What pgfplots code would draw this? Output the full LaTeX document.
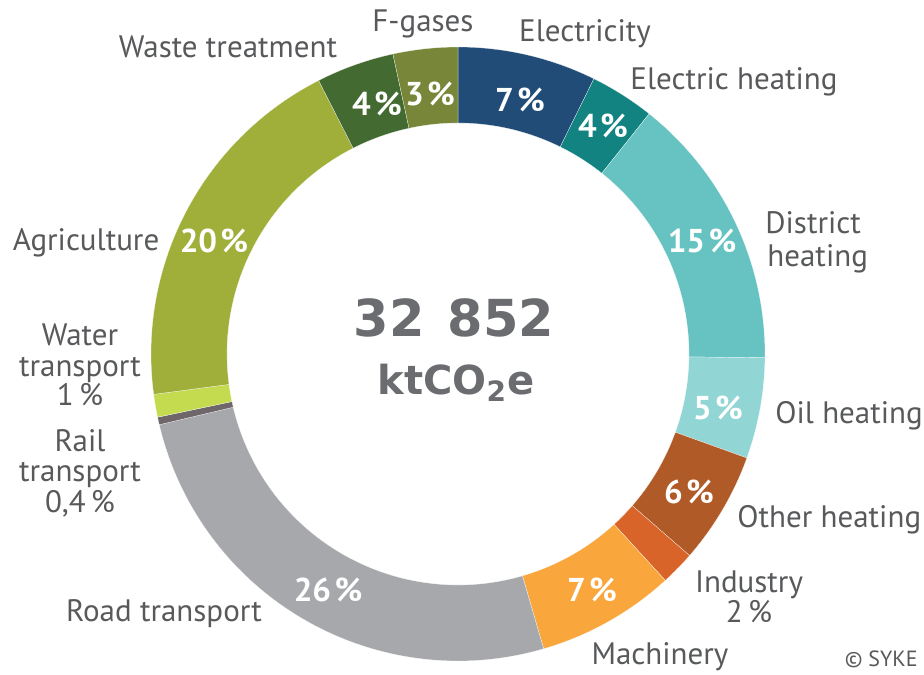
\documentclass[border=0pt]{standalone}
\usepackage{fontspec}
\setmainfont{PT Sans}
\newfontfamily\bigfont{DejaVu Sans}
\usepackage{pgfplots}
\usepackage{pgfplotstable}
\pgfplotsset{compat=1.18}

\definecolor{c0}{HTML}{204C77}
\definecolor{c1}{HTML}{128380}
\definecolor{c2}{HTML}{66C3C1}
\definecolor{c3}{HTML}{91D5D4}
\definecolor{c4}{HTML}{B05A27}
\definecolor{c5}{HTML}{D8642A}
\definecolor{c6}{HTML}{F9A63D}
\definecolor{c7}{HTML}{A7A8AB}
\definecolor{c8}{HTML}{6F6669}
\definecolor{c9}{HTML}{C4DA4F}
\definecolor{c10}{HTML}{A0AF39}
\definecolor{c11}{HTML}{436A31}
\definecolor{c12}{HTML}{778639}
\definecolor{labgrey}{HTML}{58595B}
\definecolor{numgrey}{HTML}{6B6C6F}

\tikzset{
  lab/.style={font=\fontsize{15.5}{18}\selectfont, text=labgrey, inner sep=0pt},
  pct/.style={font=\bfseries\fontsize{16.5}{18}\selectfont, text=white, inner sep=0pt},
}

% share of total emissions, percent (clockwise from 12 o'clock)
\pgfplotstableread[col sep=comma]{
sector,share
Electricity,7.3
Electric heating,3.4
District heating,14.5
Oil heating,5.3
Other heating,5.9
Industry,1.8
Machinery,7.3
Road transport,25.8
Rail transport,0.4
Water transport,1.2
Agriculture,19.6
Waste treatment,4.1
F-gases,3.4
}\emissions

\begin{document}
\begin{tikzpicture}
\begin{axis}[
  x=0.5pt, y=0.5pt, disabledatascaling,
  hide axis, clip=false,
  xmin=-458, xmax=466, ymin=-320, ymax=354,
]
\def\angA{90}
\pgfplotsforeachungrouped \i in {0,...,12}{%
  \pgfplotstablegetelem{\i}{share}\of{\emissions}%
  \pgfmathsetmacro{\angB}{\angA-3.6*\pgfplotsretval}%
  \edef\seg{\noexpand\fill[c\i, draw=white, line width=0.1pt]
    (axis cs:{307*cos(\angA)},{307*sin(\angA)})
    arc[start angle=\angA, end angle=\angB, radius=153.5pt]
    -- (axis cs:{231*cos(\angB)},{231*sin(\angB)})
    arc[start angle=\angB, end angle=\angA, radius=115.5pt] -- cycle;}%
  \seg
  \global\let\angA\angB
}

% values inside the ring
\node[pct] at (axis cs:62,254) {7\kern0.1em\%};
\node[pct] at (axis cs:145,228) {4\kern0.1em\%};
\node[pct] at (axis cs:244,113) {15\kern0.1em\%};
\node[pct] at (axis cs:260,-54) {5\kern0.1em\%};
\node[pct] at (axis cs:231,-138) {6\kern0.1em\%};
\node[pct] at (axis cs:134,-236) {7\kern0.1em\%};
\node[pct] at (axis cs:-130,-236) {26\kern0.1em\%};
\node[pct] at (axis cs:-244,113) {20\kern0.1em\%};
\node[pct] at (axis cs:-81,250) {4\kern0.1em\%};
\node[pct] at (axis cs:-28,260) {3\kern0.1em\%};

% centre
\node[inner sep=0pt, text=numgrey, font=\bigfont\bfseries\fontsize{25.5}{28}\selectfont] at (axis cs:-4,36) {32\hspace{0.45em}852};
\node[inner sep=0pt, text=numgrey, font=\bigfont\bfseries\fontsize{20}{22}\selectfont] at (axis cs:-2,-29) {ktCO\textsubscript{2}e};

% outer labels
\node[lab, anchor=base] at (axis cs:-35,322) {F-gases};
\node[lab, anchor=base] at (axis cs:127,312) {Electricity};
\node[lab, anchor=base] at (axis cs:-230,296) {Waste treatment};
\node[lab, anchor=base] at (axis cs:276,264) {Electric heating};
\node[lab, anchor=base west] at (axis cs:307,120) {District};
\node[lab, anchor=base west] at (axis cs:309,87) {heating};
\node[lab, anchor=base west] at (axis cs:317,-69) {Oil heating};
\node[lab, anchor=base west] at (axis cs:279,-173) {Other heating};
\node[lab, anchor=base] at (axis cs:291,-238) {Industry};
\node[lab, anchor=base] at (axis cs:291,-268) {2\,\%};
\node[lab, anchor=base] at (axis cs:202,-310) {Machinery};
\node[lab, anchor=base] at (axis cs:-294,-267) {Road transport};
\node[lab, anchor=base] at (axis cs:-372,103) {Agriculture};
\node[lab, anchor=base] at (axis cs:-378,8) {Water};
\node[lab, anchor=base] at (axis cs:-378,-23) {transport};
\node[lab, anchor=base] at (axis cs:-378,-51) {1\,\%};
\node[lab, anchor=base] at (axis cs:-378,-97) {Rail};
\node[lab, anchor=base] at (axis cs:-378,-127) {transport};
\node[lab, anchor=base] at (axis cs:-378,-158) {0,4\,\%};
\node[inner sep=0pt, anchor=base east, text=labgrey, font=\fontsize{11}{13}\selectfont] at (axis cs:460,-312) {\textcopyright\ SYKE};
\end{axis}
\pgfresetboundingbox
\path (current axis.south west) rectangle (current axis.north east);
\end{tikzpicture}
\end{document}
